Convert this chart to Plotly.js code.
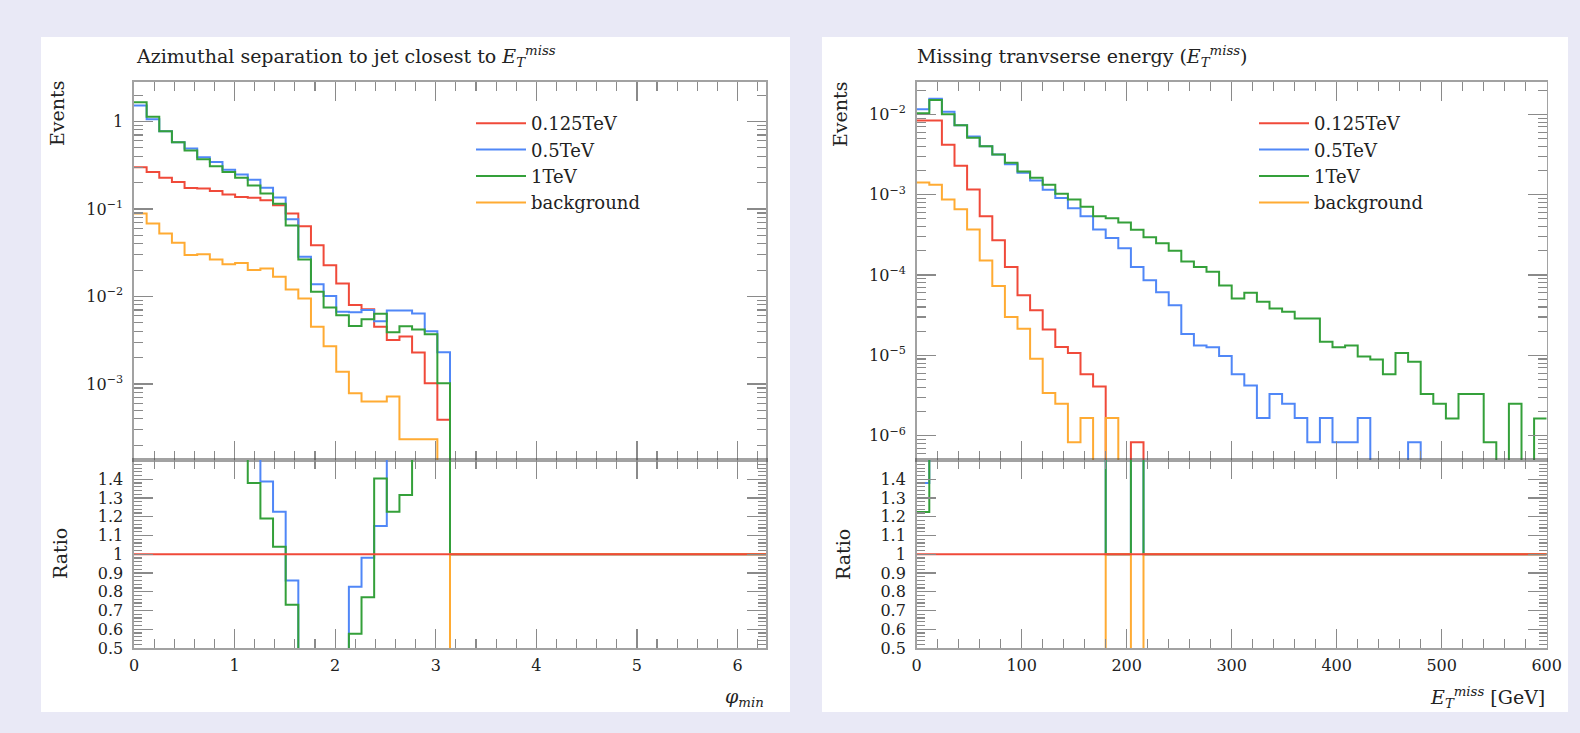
<!DOCTYPE html>
<html>
<head>
<meta charset="utf-8">
<script src="https://cdn.plot.ly/plotly-3.0.1.min.js"></script>
<style>
  html, body { margin: 0; padding: 0; background: #e9e9f6; }
  #chart { width: 1580px; height: 733px; }
</style>
</head>
<body>
<div id="chart"></div>
<script>
// ---------------- DATA ----------------
const seriesNames = ['0.125TeV', '0.5TeV', '1TeV', 'background'];
const seriesColors = ['#f04a3a', '#5087f7', '#34a03a', '#ffab33'];

// Left: azimuthal separation phi_min, 25 bins from 0 to pi (bins above pi are empty)
const phiRange = [0, 2 * Math.PI];
const phiBinWidth = Math.PI / 25;
const phi_0125TeV = [0.30, 0.264, 0.228, 0.203, 0.174, 0.171, 0.160, 0.146, 0.137, 0.134,
  0.126, 0.110, 0.0886, 0.0635, 0.0386, 0.0228, 0.0141, 0.00798, 0.00713, 0.00452,
  0.00318, 0.00348, 0.00229, 0.00102, 0.00039];
const phi_05TeV = [1.52, 1.06, 0.775, 0.58, 0.49, 0.39, 0.343, 0.281, 0.247, 0.216,
  0.175, 0.135, 0.0762, 0.0284, 0.0138, 0.0101, 0.0067, 0.0066, 0.0070, 0.0052,
  0.0069, 0.0069, 0.0064, 0.0040, 0.0023];
const phi_1TeV = [1.66, 1.13, 0.775, 0.58, 0.467, 0.369, 0.307, 0.264, 0.228, 0.185,
  0.150, 0.1144, 0.0647, 0.0265, 0.0113, 0.0075, 0.0061, 0.0046, 0.0055, 0.00635,
  0.0039, 0.00458, 0.0042, 0.0037, 0.00102];
const phi_background = [0.0886, 0.068, 0.0524, 0.041, 0.0297, 0.0304, 0.0265, 0.0234, 0.0242, 0.020,
  0.0209, 0.0168, 0.012, 0.0095, 0.0045, 0.0027, 0.00138, 0.000785, 0.00063, 0.00063,
  0.00072, 0.000234, 0.000234, 0.000234, 0];

// Right: missing transverse energy, 50 bins of 12 GeV from 0 to 600 GeV
const metRange = [0, 600];
const metBinWidth = 12;
const met_0125TeV = [0.0084, 0.0084, 0.0042, 0.0023, 0.00116, 0.00054, 0.00027, 0.000126, 5.6e-5, 3.65e-5,
  2.1e-5, 1.27e-5, 1.07e-5, 5.8e-6, 4.1e-6, 0, 0, 8.3e-7, 0, 0,
  0, 0, 0, 0, 0, 0, 0, 0, 0, 0,
  0, 0, 0, 0, 0, 0, 0, 0, 0, 0,
  0, 0, 0, 0, 0, 0, 0, 0, 0, 0];
const met_05TeV = [0.0116, 0.0157, 0.0108, 0.0073, 0.0053, 0.0040, 0.00316, 0.0024, 0.00187, 0.0015,
  0.00115, 0.00091, 0.00068, 0.00054, 0.00037, 0.000288, 0.000215, 0.000126, 8.6e-5, 6.1e-5,
  4.2e-5, 1.85e-5, 1.33e-5, 1.26e-5, 9.8e-6, 5.8e-6, 4.2e-6, 1.66e-6, 3.3e-6, 2.5e-6,
  1.66e-6, 8.3e-7, 1.66e-6, 8.3e-7, 8.3e-7, 1.66e-6, 0, 0, 0, 8.3e-7,
  0, 0, 0, 0, 0, 0, 0, 0, 0, 0];
const met_1TeV = [0.0103, 0.0151, 0.0100, 0.0073, 0.0051, 0.0040, 0.00316, 0.00249, 0.00195, 0.00162,
  0.00133, 0.00103, 0.00087, 0.00071, 0.00054, 0.00051, 0.00045, 0.000365, 0.000295, 0.000249,
  0.000201, 0.000147, 0.000126, 0.00011, 7.4e-5, 5.1e-5, 6.0e-5, 4.65e-5, 3.83e-5, 3.48e-5,
  2.88e-5, 2.88e-5, 1.48e-5, 1.26e-5, 1.33e-5, 9.7e-6, 8.9e-6, 5.8e-6, 1.07e-5, 8.3e-6,
  3.3e-6, 2.5e-6, 1.63e-6, 3.3e-6, 3.3e-6, 8.3e-7, 0, 2.5e-6, 0, 1.63e-6];
const met_background = [0.00142, 0.00133, 0.00087, 0.00066, 0.00037, 0.000152, 7.3e-5, 3.0e-5, 2.15e-5, 9.1e-6,
  3.4e-6, 2.5e-6, 8.3e-7, 1.66e-6, 0, 1.66e-6, 0, 0, 0, 0,
  0, 0, 0, 0, 0, 0, 0, 0, 0, 0,
  0, 0, 0, 0, 0, 0, 0, 0, 0, 0,
  0, 0, 0, 0, 0, 0, 0, 0, 0, 0];

const phiTickVals = [0, 1, 2, 3, 4, 5, 6];
const metTickVals = [0, 100, 200, 300, 400, 500, 600];
const phiLogTicks = [1e-3, 1e-2, 1e-1, 1];
const phiLogText = ['10<sup>\u22123</sup>', '10<sup>\u22122</sup>', '10<sup>\u22121</sup>', '1'];
const metLogTicks = [1e-6, 1e-5, 1e-4, 1e-3, 1e-2];
const metLogText = ['10<sup>\u22126</sup>', '10<sup>\u22125</sup>', '10<sup>\u22124</sup>', '10<sup>\u22123</sup>', '10<sup>\u22122</sup>'];
const ratioTickVals = [0.5, 0.6, 0.7, 0.8, 0.9, 1.0, 1.1, 1.2, 1.3, 1.4];
const ratioTickText = ['0.5', '0.6', '0.7', '0.8', '0.9', '1', '1.1', '1.2', '1.3', '1.4'];

// ---------------- HELPERS ----------------
const W = 1580, H = 733;
const FONT = 'DejaVu Serif, Liberation Serif, serif';
const LOGFLOOR = 1e-12; // empty bins are drawn far below the log axis

function padEmpty(vals, n) { const out = vals.slice(); while (out.length < n) out.push(0); return out; }
function edges(lo, width, n) { const e = []; for (let i = 0; i <= n; i++) e.push(lo + i * width); return e; }
function step(ed, vals, floor) {
  const x = [], y = [];
  for (let i = 0; i < vals.length; i++) { x.push(ed[i]); y.push(vals[i] > 0 ? vals[i] : floor); }
  x.push(ed[vals.length]); y.push(vals[vals.length - 1] > 0 ? vals[vals.length - 1] : floor);
  return { x, y };
}
function ratio(vals, ref) { return vals.map((v, i) => ref[i] > 0 ? v / ref[i] : 1); }
function minorLin(lo, hi, stepv, majorEvery) {
  const out = []; const n = Math.round((hi - lo) / stepv);
  for (let i = 0; i <= n; i++) { if (i % majorEvery !== 0) out.push(+(lo + i * stepv).toFixed(6)); }
  return out;
}
function minorLog(d0, d1) {
  const out = [];
  for (let d = d0; d <= d1; d++) for (let m = 2; m <= 9; m++) out.push(m * Math.pow(10, d));
  return out;
}
const px = v => v / W;
const py = v => 1 - v / H;

// ---------------- GEOMETRY ----------------
const L = [134, 766], R = [916.7, 1546.7];
const mainY = [py(460), py(82)], ratY = [py(648), py(460)];

const phiN = Math.round((phiRange[1] - phiRange[0]) / phiBinWidth); // 50
const phiEdges = edges(phiRange[0], phiBinWidth, phiN);
const metN = Math.round((metRange[1] - metRange[0]) / metBinWidth); // 50
const metEdges = edges(metRange[0], metBinWidth, metN);

const phiSeries = [phi_0125TeV, phi_05TeV, phi_1TeV, phi_background].map(s => padEmpty(s, phiN));
const metSeries = [met_0125TeV, met_05TeV, met_1TeV, met_background];

const traces = [];
// main panels
phiSeries.forEach((s, k) => {
  const st = step(phiEdges, s, LOGFLOOR);
  traces.push({ x: st.x, y: st.y, xaxis: 'x', yaxis: 'y', type: 'scatter', mode: 'lines',
    line: { shape: 'hv', color: seriesColors[k], width: 2 }, name: seriesNames[k],
    legend: 'legend', legendgroup: 'L' + k, hoverinfo: 'skip' });
});
metSeries.forEach((s, k) => {
  const st = step(metEdges, s, LOGFLOOR);
  traces.push({ x: st.x, y: st.y, xaxis: 'x3', yaxis: 'y3', type: 'scatter', mode: 'lines',
    line: { shape: 'hv', color: seriesColors[k], width: 2 }, name: seriesNames[k],
    legend: 'legend2', legendgroup: 'R' + k, hoverinfo: 'skip' });
});
// ratio panels (reference = first series, drawn last)
[1, 2, 3, 0].forEach(k => {
  const rp = step(phiEdges, ratio(phiSeries[k], phiSeries[0]), 0);
  traces.push({ x: rp.x, y: rp.y, xaxis: 'x2', yaxis: 'y2', type: 'scatter', mode: 'lines',
    line: { shape: 'hv', color: seriesColors[k], width: 2 }, showlegend: false, hoverinfo: 'skip' });
  const rm = step(metEdges, ratio(metSeries[k], metSeries[0]), 0);
  traces.push({ x: rm.x, y: rm.y, xaxis: 'x4', yaxis: 'y4', type: 'scatter', mode: 'lines',
    line: { shape: 'hv', color: seriesColors[k], width: 2 }, showlegend: false, hoverinfo: 'skip' });
});

const LINE = 'rgba(70,70,70,0.5)';
const TICK = '#8a8a8a';
const tickFont = { family: FONT, size: 16, color: '#222' };

function xAxis(dom, anchor, rng, tv, minorVals, labels) {
  return { domain: dom, anchor: anchor, range: rng, showgrid: false, zeroline: false,
    showline: true, linecolor: LINE, linewidth: 1.6, mirror: 'allticks',
    ticks: 'inside', ticklen: 19, tickwidth: 1.2, tickcolor: TICK,
    tickmode: 'array', tickvals: tv, showticklabels: labels, tickfont: tickFont, ticklabelstandoff: 2,
    minor: { tickmode: 'array', tickvals: minorVals, ticks: 'inside', ticklen: 9, tickwidth: 1.1, tickcolor: TICK } };
}
function yAxis(dom, anchor, type, rng, tv, tt, minorVals) {
  return { domain: dom, anchor: anchor, type: type, range: rng, showgrid: false, zeroline: false,
    showline: true, linecolor: LINE, linewidth: 1.6, mirror: 'allticks',
    ticks: 'inside', ticklen: 19, tickwidth: 1.2, tickcolor: TICK,
    tickmode: 'array', tickvals: tv, ticktext: tt, tickfont: tickFont, ticklabelstandoff: 6,
    minor: { tickmode: 'array', tickvals: minorVals, ticks: 'inside', ticklen: type === 'log' ? 9 : 8, tickwidth: 1.1, tickcolor: TICK } };
}

const phiMinor = minorLin(0, 6.2, 0.2, 5);
const metMinor = minorLin(0, 600, 20, 5);
const ratioMinor = minorLin(0.5, 1.5, 0.02, 5);

const legendFont = { family: FONT, size: 18, color: '#222' };

const layout = {
  width: W, height: H, margin: { l: 0, r: 0, t: 0, b: 0 },
  paper_bgcolor: '#e9e9f6', plot_bgcolor: '#ffffff', showlegend: true,
  font: { family: FONT, color: '#222' },
  xaxis: xAxis([px(L[0]), px(L[1])], 'y', phiRange, phiTickVals, phiMinor, false),
  yaxis: yAxis(mainY, 'x', 'log', [-3.869, 0.451], phiLogTicks, phiLogText, minorLog(-4, 0)),
  xaxis2: xAxis([px(L[0]), px(L[1])], 'y2', phiRange, phiTickVals, phiMinor, true),
  yaxis2: yAxis(ratY, 'x2', 'linear', [0.5, 1.503], ratioTickVals, ratioTickText, ratioMinor),
  xaxis3: xAxis([px(R[0]), px(R[1])], 'y3', metRange, metTickVals, metMinor, false),
  yaxis3: yAxis(mainY, 'x3', 'log', [-6.303, -1.597], metLogTicks, metLogText, minorLog(-7, -2)),
  xaxis4: xAxis([px(R[0]), px(R[1])], 'y4', metRange, metTickVals, metMinor, true),
  yaxis4: yAxis(ratY, 'x4', 'linear', [0.5, 1.503], ratioTickVals, ratioTickText, ratioMinor),
  legend: { x: px(471), y: py(105), xanchor: 'left', yanchor: 'top', bgcolor: 'rgba(0,0,0,0)',
    font: legendFont, tracegroupgap: 0, itemwidth: 50 },
  legend2: { x: px(1254), y: py(105), xanchor: 'left', yanchor: 'top', bgcolor: 'rgba(0,0,0,0)',
    font: legendFont, tracegroupgap: 0, itemwidth: 50 },
  shapes: [
    { type: 'rect', xref: 'paper', yref: 'paper', x0: px(41), x1: px(790), y0: py(712), y1: py(37), fillcolor: '#ffffff', line: { width: 0 }, layer: 'below' },
    { type: 'rect', xref: 'paper', yref: 'paper', x0: px(822), x1: px(1568), y0: py(712), y1: py(37), fillcolor: '#ffffff', line: { width: 0 }, layer: 'below' }
  ],
  annotations: [
    { text: 'Azimuthal separation to jet closest to <i>E</i><sub><i>T</i></sub><sup><i>miss</i></sup>', xref: 'paper', yref: 'paper', x: px(134), y: py(56), xanchor: 'left', yanchor: 'middle', showarrow: false, font: { family: FONT, size: 19, color: '#222' } },
    { text: 'Missing tranvserse energy (<i>E</i><sub><i>T</i></sub><sup><i>miss</i></sup>)', xref: 'paper', yref: 'paper', x: px(915), y: py(56), xanchor: 'left', yanchor: 'middle', showarrow: false, font: { family: FONT, size: 19, color: '#222' } },
    { text: 'Events', textangle: -90, xref: 'paper', yref: 'paper', x: px(57), y: py(114), xanchor: 'center', yanchor: 'middle', showarrow: false, font: { family: FONT, size: 19, color: '#222' } },
    { text: 'Events', textangle: -90, xref: 'paper', yref: 'paper', x: px(840), y: py(114), xanchor: 'center', yanchor: 'middle', showarrow: false, font: { family: FONT, size: 19, color: '#222' } },
    { text: 'Ratio', textangle: -90, xref: 'paper', yref: 'paper', x: px(60), y: py(554), xanchor: 'center', yanchor: 'middle', showarrow: false, font: { family: FONT, size: 19, color: '#222' } },
    { text: 'Ratio', textangle: -90, xref: 'paper', yref: 'paper', x: px(843), y: py(554), xanchor: 'center', yanchor: 'middle', showarrow: false, font: { family: FONT, size: 19, color: '#222' } },
    { text: '<i>\u03c6</i><sub><i>min</i></sub>', xref: 'paper', yref: 'paper', x: px(766), y: py(697), xanchor: 'right', yanchor: 'middle', showarrow: false, font: { family: FONT, size: 19, color: '#222' } },
    { text: '<i>E</i><sub><i>T</i></sub><sup><i>miss</i></sup> [GeV]', xref: 'paper', yref: 'paper', x: px(1547), y: py(697), xanchor: 'right', yanchor: 'middle', showarrow: false, font: { family: FONT, size: 19, color: '#222' } }
  ]
};

Plotly.newPlot('chart', traces, layout, { displayModeBar: false, staticPlot: true });
</script>
</body>
</html>
